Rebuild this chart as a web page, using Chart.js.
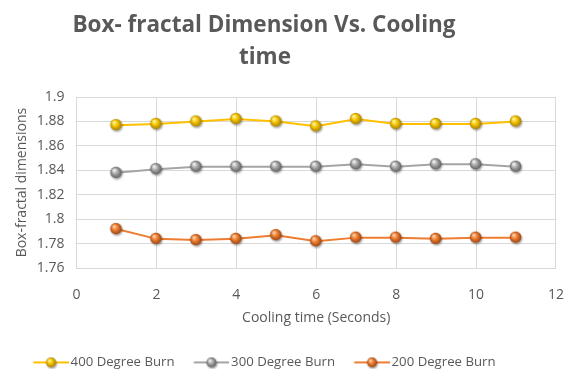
<!DOCTYPE html>
<html>
<head>
<meta charset="utf-8">
<script src="https://cdn.jsdelivr.net/npm/chart.js@4.4.1/dist/chart.umd.min.js"></script>
<style>
  html, body { margin: 0; padding: 0; background: #ffffff; }
  #wrap { width: 564px; height: 375px; position: relative; }
</style>
</head>
<body>
<div id="wrap"><canvas id="c" width="564" height="375"></canvas></div>
<script>
// Cooling time (seconds)
const coolingTime = [1, 2, 3, 4, 5, 6, 7, 8, 9, 10, 11];

// Box-fractal dimension per burn temperature
const burn400 = [1.877, 1.878, 1.880, 1.882, 1.880, 1.876, 1.882, 1.878, 1.878, 1.878, 1.880];
const burn300 = [1.838, 1.841, 1.843, 1.843, 1.843, 1.843, 1.845, 1.843, 1.845, 1.845, 1.843];
const burn200 = [1.792, 1.784, 1.783, 1.784, 1.787, 1.782, 1.785, 1.785, 1.784, 1.785, 1.785];

const seriesNames = ['400 Degree Burn', '300 Degree Burn', '200 Degree Burn'];
const titleLines = ['Box- fractal Dimension Vs. Cooling', 'time'];

const TEXT = '#595959';
const FONT = "'Open Sans', 'Liberation Sans', sans-serif";

// Shaded sphere marker
function drawSphere(ctx, cx, cy, r, light, mid, dark) {
  ctx.save();
  ctx.shadowColor = 'rgba(0,0,0,0.35)';
  ctx.shadowBlur = 2;
  ctx.shadowOffsetX = 1;
  ctx.shadowOffsetY = 1.5;
  const g = ctx.createRadialGradient(cx - r * 0.35, cy - r * 0.4, r * 0.1, cx, cy, r);
  g.addColorStop(0, light);
  g.addColorStop(0.45, mid);
  g.addColorStop(1, dark);
  ctx.fillStyle = g;
  ctx.beginPath();
  ctx.arc(cx, cy, r, 0, Math.PI * 2);
  ctx.fill();
  ctx.restore();
}

function sphereMarker(light, mid, dark) {
  const c = document.createElement('canvas');
  c.width = 16; c.height = 16;
  drawSphere(c.getContext('2d'), 7.5, 7.5, 5.8, light, mid, dark);
  return c;
}

// Legend swatch: line segment with a sphere; a transparent strip on the left
// spaces the entries apart, and the image overhangs its box by EXT on each side.
const LEG_PAD = 1.5, LEG_GAP = 17.5, LEG_LINE = 36, EXT = 5;
const LEG_BOX = LEG_GAP + LEG_LINE - EXT;
function legendMarker(line, light, mid, dark) {
  const c = document.createElement('canvas');
  c.width = LEG_BOX + 2 * EXT; c.height = 14;
  const ctx = c.getContext('2d');
  const x0 = EXT + LEG_GAP, x1 = c.width;
  ctx.strokeStyle = line;
  ctx.lineWidth = 2;
  ctx.beginPath();
  ctx.moveTo(x0, 7); ctx.lineTo(x1, 7);
  ctx.stroke();
  drawSphere(ctx, (x0 + x1) / 2, 7, 5, light, mid, dark);
  return c;
}

const styles = [
  { line: '#FFC000', light: '#fff6a0', mid: '#f5c400', dark: '#a87f00' },
  { line: '#A5A5A5', light: '#f2f2f2', mid: '#a8a8a8', dark: '#5e5e5e' },
  { line: '#ED7D31', light: '#ffd2a8', mid: '#ed7d31', dark: '#9a4310' }
];
const seriesValues = [burn400, burn300, burn200];

const datasets = seriesValues.map((vals, i) => {
  const s = styles[i];
  return {
    label: seriesNames[i],
    data: coolingTime.map((t, k) => ({ x: t, y: vals[k] })),
    borderColor: s.line,
    backgroundColor: s.line,
    borderWidth: 2,
    pointStyle: sphereMarker(s.light, s.mid, s.dark),
    legendStyle: legendMarker(s.line, s.light, s.mid, s.dark),
    pointRadius: 6,
    tension: 0
  };
});

// Two-line chart title drawn above the plot
const chartTitle = {
  id: 'chartTitle',
  afterDraw(chart) {
    const ctx = chart.ctx;
    ctx.save();
    ctx.fillStyle = TEXT;
    ctx.font = "bold 22.5px " + FONT;
    ctx.textAlign = 'center';
    ctx.textBaseline = 'middle';
    ctx.fillText(titleLines[0], 264, 26);
    ctx.fillText(titleLines[1], 265, 58);
    ctx.restore();
  }
};

new Chart(document.getElementById('c'), {
  type: 'line',
  data: { datasets },
  plugins: [chartTitle],
  options: {
    responsive: false,
    animation: false,
    layout: { padding: { left: 14, right: 0, top: 97, bottom: -4 } },
    plugins: {
      title: { display: false },
      legend: {
        position: 'bottom',
        align: 'start',
        labels: {
          color: TEXT,
          font: { family: FONT, size: 13.2 },
          usePointStyle: true,
          pointStyleWidth: LEG_BOX,
          boxHeight: 14,
          padding: LEG_PAD,
          generateLabels(chart) {
            return chart.data.datasets.map((d, i) => ({
              text: d.label,
              fillStyle: d.borderColor,
              strokeStyle: d.borderColor,
              fontColor: TEXT,
              pointStyle: d.legendStyle,
              lineWidth: 0,
              hidden: false,
              datasetIndex: i
            }));
          }
        }
      },
      tooltip: { enabled: false }
    },
    scales: {
      x: {
        type: 'linear',
        min: 0, max: 12,
        ticks: { stepSize: 2, color: TEXT, font: { family: FONT, size: 14 }, padding: 0 },
        grid: { color: '#d9d9d9', drawTicks: true, tickLength: 18, tickColor: 'rgba(0,0,0,0)' },
        border: { color: '#d9d9d9' },
        title: { display: true, text: 'Cooling time (Seconds)', color: TEXT,
                 font: { family: FONT, size: 14 }, padding: { top: 7, bottom: 27.5 } }
      },
      y: {
        min: 1.76, max: 1.9,
        ticks: {
          stepSize: 0.02, color: TEXT, font: { family: FONT, size: 14 }, padding: 0,
          callback: v => String(Number(v.toFixed(2)))
        },
        grid: { color: '#d9d9d9', drawTicks: true, tickLength: 12, tickColor: 'rgba(0,0,0,0)' },
        border: { color: '#d9d9d9' },
        title: { display: true, text: 'Box-fractal dimensions', color: TEXT,
                 font: { family: FONT, size: 14 }, padding: { top: 0, bottom: 6 } }
      }
    }
  }
});
</script>
</body>
</html>
